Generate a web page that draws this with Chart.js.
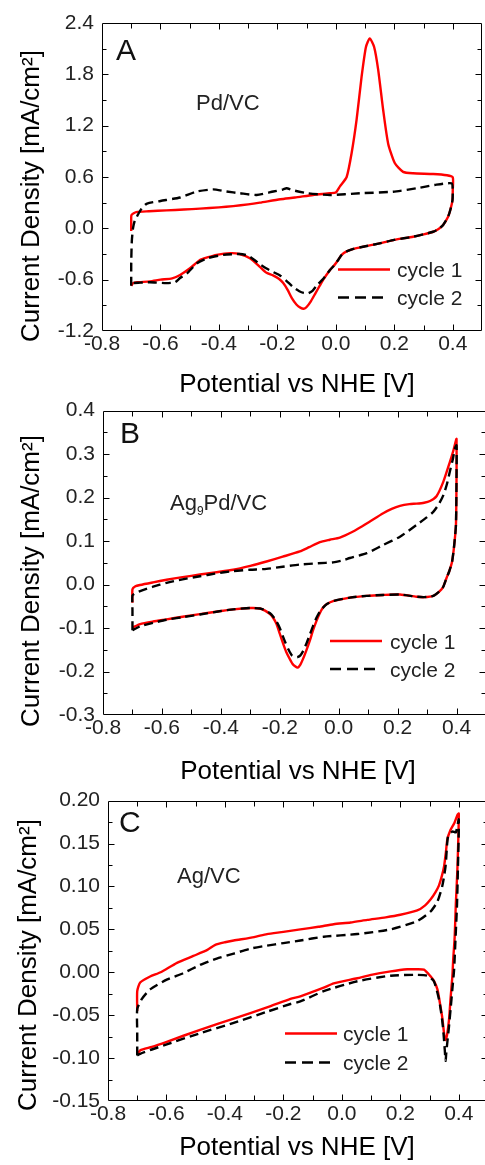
<!DOCTYPE html>
<html><head><meta charset="utf-8">
<script src="https://cdn.jsdelivr.net/npm/chart.js@4.4.1/dist/chart.umd.min.js"></script>
<style>
html,body{margin:0;padding:0;background:#fff;width:485px;height:1165px;overflow:hidden;position:relative;}
.p{position:absolute;left:0;width:500px;}
canvas{display:block;}
</style></head><body>
<div class="p" style="top:0;height:405px"><canvas id="cA" width="500" height="405"></canvas></div>
<div class="p" style="top:390px;height:405px"><canvas id="cB" width="500" height="405"></canvas></div>
<div class="p" style="top:780px;height:385px"><canvas id="cC" width="500" height="385"></canvas></div>
<script>
// ---------- tick values ----------
const X_TICKS = [-0.8,-0.6,-0.4,-0.2,0.0,0.2,0.4];
const X_MINOR = [-0.7,-0.5,-0.3,-0.1,0.1,0.3,0.5];
const A_Y_TICKS = [-1.2,-0.6,0.0,0.6,1.2,1.8,2.4];
const A_Y_MINOR = [-0.9,-0.3,0.3,0.9,1.5,2.1];
const B_Y_TICKS = [-0.3,-0.2,-0.1,0.0,0.1,0.2,0.3,0.4];
const B_Y_MINOR = [-0.25,-0.15,-0.05,0.05,0.15,0.25,0.35];
const C_Y_TICKS = [-0.15,-0.10,-0.05,0.00,0.05,0.10,0.15,0.20];
const C_Y_MINOR = [-0.125,-0.075,-0.025,0.025,0.075,0.125,0.175];

const SERIES_NAMES = ['cycle 1','cycle 2'];
const SAMPLE_LABELS = ['Pd/VC','Ag9Pd/VC','Ag/VC'];
const PANEL_LETTERS = ['A','B','C'];

// ---------- Panel A : Pd/VC ----------
const A_C1_V = [-0.70,-0.70,-0.699,-0.683,-0.64,-0.579,-0.52,-0.465,-0.40,-0.351,-0.30,-0.26,-0.19,-0.14,-0.078,-0.02,0.0,0.014,0.037,0.054,0.071,0.088,0.103,0.116,0.131,0.145,0.162,0.179,0.202,0.23,0.264,0.333,0.38,0.40,
  0.40,0.399,0.392,0.384,0.367,0.35,0.333,0.30,0.264,0.20,0.15,0.093,0.06,0.037,0.02,0.008,-0.005,-0.02,-0.043,-0.055,-0.07,-0.085,-0.10,-0.11,-0.12,-0.135,-0.15,-0.165,-0.18,-0.195,-0.215,-0.237,-0.26,-0.294,-0.33,-0.36,-0.408,-0.44,-0.465,-0.499,-0.533,-0.56,-0.60,-0.636,-0.68,-0.693,-0.70];
const A_C1_I = [-0.03,0.08,0.156,0.19,0.20,0.21,0.22,0.23,0.245,0.26,0.28,0.30,0.34,0.36,0.39,0.41,0.42,0.49,0.60,0.88,1.27,1.77,2.12,2.22,2.12,1.85,1.38,0.99,0.76,0.66,0.643,0.635,0.62,0.596,
  0.45,0.33,0.22,0.136,0.04,-0.01,-0.04,-0.07,-0.098,-0.135,-0.176,-0.215,-0.24,-0.27,-0.31,-0.37,-0.43,-0.487,-0.60,-0.67,-0.76,-0.85,-0.92,-0.94,-0.93,-0.89,-0.82,-0.72,-0.64,-0.59,-0.55,-0.52,-0.45,-0.35,-0.30,-0.29,-0.31,-0.34,-0.37,-0.467,-0.545,-0.585,-0.60,-0.62,-0.63,-0.64,-0.67];
const A_C2_V = [-0.70,-0.70,-0.698,-0.694,-0.688,-0.681,-0.664,-0.646,-0.60,-0.533,-0.476,-0.42,-0.374,-0.328,-0.271,-0.214,-0.18,-0.169,-0.14,-0.095,-0.02,0.082,0.196,0.276,0.338,0.396,
  0.40,0.399,0.392,0.384,0.367,0.35,0.333,0.30,0.264,0.20,0.15,0.093,0.06,0.037,0.02,0.008,-0.005,-0.02,-0.043,-0.066,-0.08,-0.095,-0.11,-0.125,-0.145,-0.17,-0.191,-0.215,-0.237,-0.26,-0.271,-0.30,-0.328,-0.385,-0.44,-0.476,-0.51,-0.533,-0.55,-0.58,-0.636,-0.67,-0.693,-0.70];
const A_C2_I = [-0.67,-0.40,-0.15,0.0,0.09,0.136,0.234,0.29,0.32,0.36,0.43,0.455,0.43,0.41,0.39,0.43,0.455,0.468,0.44,0.41,0.39,0.41,0.428,0.468,0.507,0.526,
  0.45,0.33,0.22,0.136,0.04,-0.01,-0.04,-0.07,-0.098,-0.135,-0.176,-0.215,-0.24,-0.27,-0.31,-0.37,-0.43,-0.487,-0.59,-0.67,-0.73,-0.76,-0.755,-0.735,-0.69,-0.61,-0.55,-0.51,-0.47,-0.42,-0.39,-0.32,-0.30,-0.31,-0.35,-0.41,-0.53,-0.58,-0.63,-0.64,-0.63,-0.635,-0.64,-0.67];

// ---------- Panel B : Ag9Pd/VC ----------
const B_C1_V = [-0.70,-0.70,-0.69,-0.674,-0.63,-0.584,-0.53,-0.471,-0.42,-0.358,-0.30,-0.245,-0.19,-0.132,-0.10,-0.064,-0.03,0.004,0.049,0.08,0.106,0.151,0.18,0.208,0.24,0.264,0.29,0.31,0.332,0.355,0.377,0.39,0.398,0.40,
  0.40,0.398,0.392,0.385,0.375,0.366,0.355,0.343,0.321,0.29,0.264,0.208,0.15,0.095,0.038,-0.019,-0.04,-0.053,-0.065,-0.075,-0.087,-0.098,-0.11,-0.121,-0.13,-0.139,-0.148,-0.157,-0.167,-0.178,-0.188,-0.20,-0.211,-0.222,-0.233,-0.25,-0.267,-0.30,-0.358,-0.41,-0.471,-0.53,-0.584,-0.63,-0.674,-0.70];
const B_C1_I = [-0.042,-0.011,-0.004,-0.001,0.005,0.011,0.017,0.023,0.028,0.034,0.043,0.053,0.064,0.076,0.086,0.0975,0.103,0.108,0.122,0.134,0.145,0.164,0.174,0.181,0.185,0.186,0.188,0.192,0.203,0.236,0.281,0.31,0.331,0.335,
  0.25,0.137,0.09,0.053,0.03,0.015,-0.005,-0.015,-0.026,-0.029,-0.028,-0.023,-0.024,-0.026,-0.030,-0.038,-0.045,-0.053,-0.067,-0.083,-0.105,-0.129,-0.152,-0.171,-0.184,-0.191,-0.188,-0.182,-0.170,-0.155,-0.137,-0.113,-0.091,-0.077,-0.068,-0.06,-0.055,-0.054,-0.057,-0.062,-0.068,-0.074,-0.080,-0.085,-0.091,-0.099];
const B_C2_V = [-0.70,-0.70,-0.70,-0.69,-0.674,-0.63,-0.584,-0.53,-0.471,-0.42,-0.358,-0.30,-0.245,-0.19,-0.132,-0.07,-0.019,0.01,0.038,0.095,0.151,0.208,0.264,0.30,0.321,0.34,0.355,0.367,0.377,0.388,0.394,0.40,
  0.40,0.398,0.392,0.385,0.375,0.366,0.355,0.343,0.321,0.29,0.264,0.208,0.15,0.095,0.038,-0.019,-0.04,-0.053,-0.064,-0.075,-0.087,-0.098,-0.109,-0.12,-0.13,-0.14,-0.148,-0.16,-0.17,-0.18,-0.19,-0.20,-0.211,-0.222,-0.233,-0.25,-0.267,-0.30,-0.358,-0.41,-0.471,-0.53,-0.584,-0.63,-0.674,-0.70];
const B_C2_I = [-0.105,-0.06,-0.025,-0.02,-0.015,-0.005,0.004,0.012,0.019,0.025,0.031,0.034,0.036,0.041,0.046,0.049,0.051,0.055,0.061,0.072,0.091,0.110,0.137,0.155,0.167,0.185,0.205,0.23,0.259,0.29,0.312,0.32,
  0.25,0.137,0.09,0.053,0.03,0.015,-0.005,-0.015,-0.026,-0.029,-0.028,-0.023,-0.024,-0.026,-0.030,-0.038,-0.045,-0.053,-0.062,-0.076,-0.095,-0.115,-0.135,-0.152,-0.163,-0.167,-0.167,-0.162,-0.150,-0.135,-0.118,-0.100,-0.085,-0.074,-0.066,-0.059,-0.055,-0.054,-0.057,-0.062,-0.069,-0.075,-0.081,-0.088,-0.096,-0.105];

// ---------- Panel C : Ag/VC ----------
const C_C1_V = [-0.70,-0.70,-0.69,-0.656,-0.62,-0.564,-0.508,-0.46,-0.433,-0.40,-0.37,-0.30,-0.256,-0.20,-0.142,-0.08,-0.028,0.03,0.087,0.15,0.20,0.258,0.285,0.304,0.32,0.332,0.342,0.35,0.356,0.361,0.372,0.385,0.395,0.40,
  0.398,0.395,0.39,0.386,0.381,0.378,0.372,0.367,0.36,0.355,0.35,0.344,0.335,0.327,0.315,0.304,0.281,0.25,0.224,0.167,0.10,0.053,-0.028,-0.062,-0.142,-0.176,-0.256,-0.37,-0.485,-0.599,-0.65,-0.69,-0.70];
const C_C1_I = [-0.045,-0.022,-0.012,-0.005,0.0,0.011,0.019,0.026,0.032,0.035,0.037,0.041,0.0445,0.047,0.050,0.053,0.056,0.058,0.061,0.064,0.067,0.072,0.078,0.085,0.093,0.101,0.112,0.124,0.14,0.155,0.166,0.174,0.183,0.185,
  0.15,0.117,0.08,0.041,0.015,-0.005,-0.030,-0.054,-0.073,-0.079,-0.072,-0.054,-0.035,-0.020,-0.010,-0.005,0.003,0.0035,0.0035,0.001,-0.003,-0.007,-0.013,-0.018,-0.028,-0.031,-0.041,-0.054,-0.067,-0.081,-0.087,-0.091,-0.096];
const C_C2_V = [-0.70,-0.70,-0.70,-0.684,-0.656,-0.599,-0.542,-0.485,-0.428,-0.37,-0.313,-0.256,-0.20,-0.142,-0.062,0.053,0.167,0.258,0.304,0.327,0.344,0.355,0.363,0.378,0.39,0.40,
  0.397,0.394,0.389,0.384,0.378,0.372,0.366,0.361,0.357,0.355,0.352,0.348,0.344,0.338,0.332,0.315,0.292,0.258,0.167,0.053,-0.062,-0.142,-0.176,-0.256,-0.37,-0.485,-0.599,-0.65,-0.69,-0.70];
const C_C2_I = [-0.097,-0.07,-0.043,-0.031,-0.020,-0.0086,-0.001,0.0085,0.016,0.0217,0.0275,0.031,0.034,0.037,0.0414,0.0445,0.050,0.0596,0.071,0.0824,0.101,0.124,0.158,0.164,0.163,0.178,
  0.12,0.079,0.04,0.003,-0.02,-0.043,-0.065,-0.081,-0.095,-0.103,-0.09,-0.072,-0.058,-0.043,-0.031,-0.0105,-0.004,-0.003,-0.004,-0.0105,-0.022,-0.034,-0.037,-0.046,-0.059,-0.071,-0.084,-0.090,-0.095,-0.097];

// ---------- rendering ----------
const FONT = "'Liberation Sans', Arial, sans-serif";
const pts = (vs, is) => vs.map((v, k) => ({x: v, y: is[k]}));
const fmt = (v, d) => (Math.abs(v) < 1e-9 ? 0 : v).toFixed(d);

const deco = {
  id: 'deco',
  afterDatasetsDraw(chart, args, o) {
    const {ctx, chartArea: a, scales: {x, y}} = chart;
    ctx.save();
    ctx.strokeStyle = '#000';
    ctx.lineWidth = 1;
    const L = Math.round(a.left) + 0.5, R = Math.round(a.right) - 0.5, T = Math.round(a.top) + 0.5, B = Math.round(a.bottom) - 0.5;
    ctx.beginPath();
    ctx.moveTo(L, T); ctx.lineTo(R, T); ctx.lineTo(R, B); ctx.lineTo(L, B); ctx.closePath();
    ctx.stroke();
    ctx.beginPath();
    const ytick = (v, len) => {
      const p = Math.round(y.getPixelForValue(v)) + 0.5;
      if (p <= T + 1 || p >= B - 1) return;
      ctx.moveTo(L, p); ctx.lineTo(L + len, p);
      ctx.moveTo(R, p); ctx.lineTo(R - len, p);
    };
    const xtick = (v, len) => {
      const p = Math.round(x.getPixelForValue(v)) + 0.5;
      if (p <= L + 1 || p >= R - 1) return;
      ctx.moveTo(p, B); ctx.lineTo(p, B - len);
      ctx.moveTo(p, T); ctx.lineTo(p, T + len);
    };
    o.yMajor.forEach(v => ytick(v, 6));
    o.yMinor.forEach(v => ytick(v, 4));
    X_TICKS.forEach(v => xtick(v, 6));
    X_MINOR.forEach(v => xtick(v, 5));
    ctx.stroke();

    // axis titles
    ctx.fillStyle = '#000';
    ctx.font = '26px ' + FONT;
    ctx.textAlign = 'center';
    ctx.textBaseline = 'middle';
    ctx.fillText('Potential vs NHE [V]', o.xt[0], o.xt[1]);
    ctx.save();
    ctx.translate(o.yt[0], o.yt[1]);
    ctx.rotate(-Math.PI / 2);
    ctx.fillText('Current Density [mA/cm\u00B2]', 0, 0);
    ctx.restore();

    // panel letter
    ctx.textAlign = 'left';
    ctx.textBaseline = 'alphabetic';
    ctx.font = '30px ' + FONT;
    ctx.fillStyle = '#111';
    ctx.fillText(o.letter, o.lp[0], o.lp[1]);

    // sample label
    ctx.font = '22px ' + FONT;
    ctx.fillStyle = '#222';
    let sx = o.sp[0];
    if (o.sub) {
      ctx.fillText(o.sub[0], sx, o.sp[1]);
      sx += ctx.measureText(o.sub[0]).width;
      ctx.font = '12px ' + FONT;
      ctx.fillText(o.sub[1], sx, o.sp[1] + 5);
      sx += ctx.measureText(o.sub[1]).width;
      ctx.font = '22px ' + FONT;
      ctx.fillText(o.sub[2], sx, o.sp[1]);
    } else {
      ctx.fillText(o.sample, sx, o.sp[1]);
    }

    // legend
    const lg = o.legend;
    ctx.lineWidth = 2.4;
    ctx.strokeStyle = '#ff0000';
    ctx.setLineDash([]);
    ctx.beginPath(); ctx.moveTo(lg.x0, lg.y1); ctx.lineTo(lg.x1, lg.y1); ctx.stroke();
    ctx.strokeStyle = '#000';
    ctx.setLineDash([11, 6]);
    ctx.beginPath(); ctx.moveTo(lg.x0, lg.y2); ctx.lineTo(lg.x0 + 45, lg.y2); ctx.stroke();
    ctx.setLineDash([]);
    ctx.fillStyle = '#222';
    ctx.font = '21px ' + FONT;
    ctx.fillText(SERIES_NAMES[0], lg.tx, lg.y1 + 7.5);
    ctx.fillText(SERIES_NAMES[1], lg.tx, lg.y2 + 7.5);
    ctx.restore();
  }
};

function makePanel(id, c) {
  const tickFont = {family: FONT, size: 21};
  new Chart(document.getElementById(id), {
    type: 'scatter',
    data: {datasets: [
      {label: SERIES_NAMES[0], data: pts(c.c1v, c.c1i), showLine: true, borderColor: '#ff0000', backgroundColor: '#ff0000', borderWidth: 2.4, pointRadius: 0, tension: 0.2, order: 2, fill: false},
      {label: SERIES_NAMES[1], data: pts(c.c2v, c.c2i), showLine: true, borderColor: '#000000', backgroundColor: '#000000', borderWidth: 2.4, borderDash: [9, 5], pointRadius: 0, tension: 0.2, order: 1, fill: false}
    ]},
    options: {
      responsive: false, animation: false, devicePixelRatio: 1,
      layout: {padding: {top: c.padTop, right: c.padRight, left: 0, bottom: 0}},
      plugins: {legend: {display: false}, tooltip: {enabled: false}, deco: c.deco},
      scales: {
        x: {
          type: 'linear', position: 'bottom', min: -0.8, max: 0.5,
          afterBuildTicks: s => { s.ticks = X_TICKS.map(v => ({value: v})); },
          afterFit: s => { s.height = c.xH; },
          ticks: {padding: 1, font: tickFont, color: '#222', autoSkip: false, maxRotation: 0, callback: v => fmt(v, 1)},
          grid: {display: false, drawTicks: false}, border: {display: false}
        },
        y: {
          type: 'linear', position: 'left', min: c.ymin, max: c.ymax,
          afterBuildTicks: s => { s.ticks = c.yTicks.map(v => ({value: v})); },
          afterFit: s => { s.width = c.yW; },
          ticks: {padding: 8, font: tickFont, color: '#222', autoSkip: false, callback: v => fmt(v, c.dec)},
          grid: {display: false, drawTicks: false}, border: {display: false}
        }
      }
    },
    plugins: [deco]
  });
}

makePanel('cA', {
  c1v: A_C1_V, c1i: A_C1_I, c2v: A_C2_V, c2i: A_C2_I,
  ymin: -1.2, ymax: 2.4, yTicks: A_Y_TICKS, dec: 1,
  padTop: 23, padRight: 18, yW: 102, xH: 74,
  deco: {yMajor: A_Y_TICKS, yMinor: A_Y_MINOR, xt: [297, 385], yt: [32, 196], letter: PANEL_LETTERS[0], lp: [116, 60],
         sample: SAMPLE_LABELS[0], sp: [196, 110], legend: {x0: 338, x1: 390, y1: 269.5, y2: 297.5, tx: 397}}
});
makePanel('cB', {
  c1v: B_C1_V, c1i: B_C1_I, c2v: B_C2_V, c2i: B_C2_I,
  ymin: -0.3, ymax: 0.4, yTicks: B_Y_TICKS, dec: 1,
  padTop: 18, padRight: 14, yW: 103, xH: 80,
  deco: {yMajor: B_Y_TICKS, yMinor: B_Y_MINOR, xt: [298, 382], yt: [32, 191], letter: PANEL_LETTERS[1], lp: [120, 53],
         sample: SAMPLE_LABELS[1], sub: ['Ag', '9', 'Pd/VC'], sp: [170, 120], legend: {x0: 330, x1: 382, y1: 251, y2: 279, tx: 390}}
});
makePanel('cC', {
  c1v: C_C1_V, c1i: C_C1_I, c2v: C_C2_V, c2i: C_C2_I,
  ymin: -0.15, ymax: 0.20, yTicks: C_Y_TICKS, dec: 2,
  padTop: 13, padRight: 12, yW: 108, xH: 64,
  deco: {yMajor: C_Y_TICKS, yMinor: C_Y_MINOR, xt: [297, 368], yt: [29, 185], letter: PANEL_LETTERS[2], lp: [119, 52],
         sample: SAMPLE_LABELS[2], sp: [177, 103], legend: {x0: 285, x1: 337, y1: 253.5, y2: 282.5, tx: 343}}
});
</script>
</body></html>
